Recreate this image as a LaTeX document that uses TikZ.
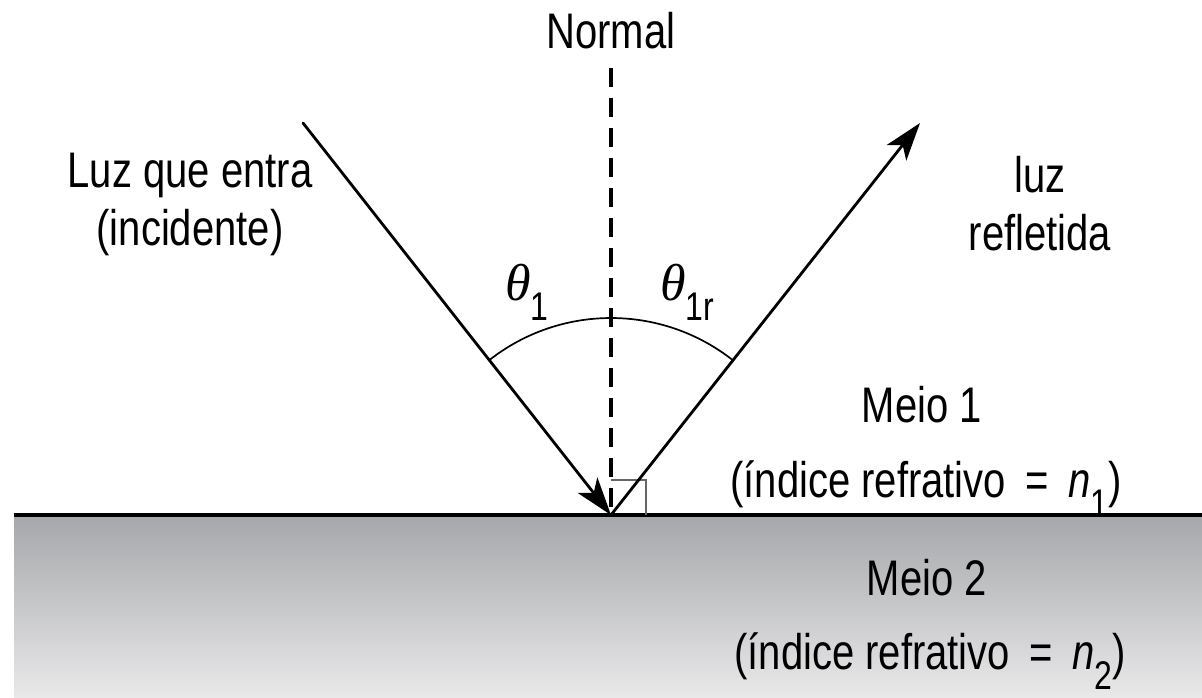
\documentclass[tikz,border=0pt]{standalone}
\usepackage{fontspec}
\setmainfont[FakeStretch=0.8]{Liberation Sans}
\newfontfamily\thetafont{Liberation Serif}
\usetikzlibrary{arrows.meta}
\definecolor{topgray}{RGB}{166,167,170}
\definecolor{botgray}{RGB}{233,233,234}
\newcommand{\subtxt}[1]{\raisebox{-20pt}{\fontsize{40}{44}\selectfont #1}}
\newcommand{\thetasym}{{\thetafont\itshape\fontsize{52}{56}\selectfont θ}}
\begin{document}
\begin{tikzpicture}[x=1pt,y=-1pt,
  ray/.style={line width=2.8pt, line cap=round},
  tip/.style={-{Stealth[length=38pt,width=25pt,inset=10pt]}},
  lbl/.style={font=\fontsize{50}{58}\selectfont, inner sep=0pt}
]
\useasboundingbox (0,0) rectangle (1202,698);
% lower medium
\shade[top color=topgray, bottom color=botgray] (14,515) rectangle (1202,698);
% points
\coordinate (O) at (611,515);
\coordinate (A) at (303,123);
\coordinate (B) at (920,123);
\coordinate (N) at (611,68);
\coordinate (SL) at (14,515);
\coordinate (SR) at (1202,515);
% surface
\draw[line width=4pt] (SL) -- (SR);
% right angle mark
\draw[line width=1.4pt, gray!80!black] (611,480) -- (646,480) -- (646,515);
% normal
\draw[line width=3.2pt, dash pattern=on 19pt off 11pt] (N) -- (O);
% arc
\draw[line width=1.7pt] ([shift={(-121.8,-154.8)}]O) arc[start angle=231.8, end angle=308.2, radius=197];
% rays
\draw[ray, tip] (A) -- (O);
\draw[ray, tip] (O) -- (B);
% labels
\node[lbl] (normal) at (611,31) {Normal};
\node[lbl, align=center] (luz) at (190,204) {Luz que entra\\(incidente)};
\node[lbl, align=center] (refl) at (1040,204) {luz\\refletida};
\node[inner sep=0pt, anchor=base west] (t1) at (505,300) {\thetasym\subtxt{1}};
\node[inner sep=0pt, anchor=base west] (t1r) at (660,300) {\thetasym\subtxt{1r}};
\node[lbl] (m1) at (922,405) {Meio 1};
\node[lbl, anchor=base] (n1) at (926,497) {(índice refrativo \,=\, {\itshape n}\subtxt{1})};
\node[lbl] (m2) at (927,578) {Meio 2};
\node[lbl, anchor=base] (n2) at (930,669) {(índice refrativo \,=\, {\itshape n}\subtxt{2})};
\end{tikzpicture}
\end{document}
